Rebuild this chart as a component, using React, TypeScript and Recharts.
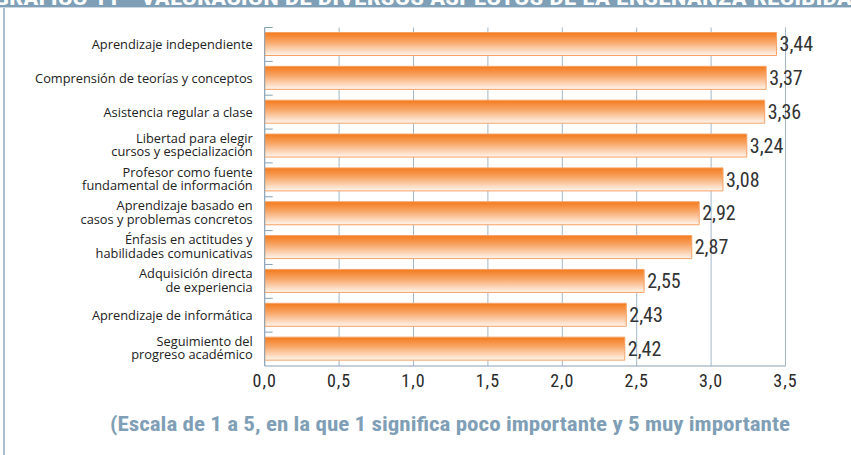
import React from "react";
import { BarChart, Bar, XAxis, YAxis, CartesianGrid, LabelList } from "recharts";

const categories = [
  "Aprendizaje independiente",
  "Comprensión de teorías y conceptos",
  "Asistencia regular a clase",
  "Libertad para elegir\ncursos y especialización",
  "Profesor como fuente\nfundamental de información",
  "Aprendizaje basado en\ncasos y problemas concretos",
  "Énfasis en actitudes y\nhabilidades comunicativas",
  "Adquisición directa\nde experiencia",
  "Aprendizaje de informática",
  "Seguimiento del\nprogreso académico",
];
const values = [3.44, 3.37, 3.36, 3.24, 3.08, 2.92, 2.87, 2.55, 2.43, 2.42];
const xTicks = [0, 0.5, 1, 1.5, 2, 2.5, 3, 3.5];
const titleText = "GRÁFICO 11 - VALORACIÓN DE DIVERSOS ASPECTOS DE LA ENSEÑANZA RECIBIDA";
const footerText = "(Escala de 1 a 5, en la que 1 significa poco importante y 5 muy importante";

const data = categories.map((name, i) => ({ name, value: values[i] }));

const fmt = (v: number) => v.toFixed(1).replace(".", ",");
const fmt2 = (v: any) => Number(v).toFixed(2).replace(".", ",");

const NARROW = "'Liberation Sans Narrow', 'Arial Narrow', 'Roboto Condensed', sans-serif";
const AXIS = "#88a2b6";
const GRID = "#a3b7c7";

const YTick = (props: any) => {
  const { x, y, payload } = props;
  const half = payload && typeof payload.offset === "number" && payload.offset > 0 ? payload.offset : 16.9;
  const lines = String(payload.value).split("\n");
  const lh = 13.6;
  const start = -((lines.length - 1) * lh) / 2 - (lines.length > 1 ? 1.5 : 0);
  return (
    <g>
      <line x1={x} x2={x + 8} y1={y - half} y2={y - half} stroke={AXIS} strokeWidth={1} />
      <text
        x={x - 12}
        y={y}
        textAnchor="end"
        fill="#222"
        fontSize={12.8}
        fontFamily="'Open Sans', sans-serif"
      >
        {lines.map((l, i) => (
          <tspan key={i} x={x - 12} y={y + start + i * lh} dominantBaseline="central">
            {l}
          </tspan>
        ))}
      </text>
    </g>
  );
};

export default function App() {
  return (
    <div
      style={{
        position: "fixed",
        left: 0,
        top: 0,
        width: 851,
        height: 455,
        background: "#fff",
        overflow: "hidden",
      }}
    >
      <div
        style={{
          position: "absolute",
          left: 0,
          top: 0,
          width: 851,
          height: 7,
          background: "#7f9fb6",
          overflow: "hidden",
          borderBottom: "1px solid #c9d7e1",
        }}
      >
        <svg width={851} height={7} style={{ display: "block" }}>
          <text
            x={-6}
            y={5}
            fill="#fff"
            fontWeight="bold"
            fontSize={20}
            fontFamily={NARROW}
            textLength={858}
            lengthAdjust="spacingAndGlyphs"
          >
            {titleText}
          </text>
        </svg>
      </div>
      <div
        style={{
          position: "absolute",
          left: 3,
          top: 8,
          width: 1.5,
          height: 447,
          background: "#a9bfcf",
        }}
      />
      <div style={{ position: "absolute", left: 0, top: 0 }}>
        <BarChart
          width={851}
          height={455}
          data={data}
          layout="vertical"
          margin={{ top: 27.5, right: 65.5, bottom: 59, left: 0 }}
        >
          <defs>
            <linearGradient id="barGrad" x1="0" y1="0" x2="0" y2="1">
              <stop offset="0%" stopColor="#f37a1c" />
              <stop offset="40%" stopColor="#f8a565" />
              <stop offset="100%" stopColor="#fff6ef" />
            </linearGradient>
          </defs>
          <CartesianGrid horizontal={false} vertical={true} stroke={GRID} strokeWidth={1} />
          <XAxis
            type="number"
            domain={[0, 3.5]}
            ticks={xTicks}
            tickFormatter={fmt}
            tickLine={false}
            axisLine={{ stroke: AXIS, strokeWidth: 1 }}
            height={30}
            tick={{ fill: "#2a2a2a", fontSize: 18, fontFamily: NARROW, letterSpacing: 1 }}
            interval={0}
          />
          <YAxis
            type="category"
            dataKey="name"
            width={264.7}
            tickLine={false}
            tickSize={0}
            tickMargin={0}
            axisLine={{ stroke: AXIS, strokeWidth: 1 }}
            tick={<YTick />}
            interval={0}
          />
          <Bar
            dataKey="value"
            barSize={23}
            fill="url(#barGrad)"
            stroke="#f6a266"
            strokeWidth={1}
            isAnimationActive={false}
          >
            <LabelList
              dataKey="value"
              position="right"
              offset={3}
              formatter={fmt2}
              fill="#333"
              fontSize={20}
              fontFamily={NARROW}
            />
          </Bar>
        </BarChart>
      </div>
      <svg
        width={851}
        height={40}
        style={{ position: "absolute", left: 0, top: 405 }}
      >
        <text
          x={110}
          y={19}
          fill="#809fb6"
          fontWeight="bold"
          fontSize={20}
          fontFamily={NARROW}
          textLength={680}
          lengthAdjust="spacingAndGlyphs"
          dominantBaseline="central"
        >
          {footerText}
        </text>
      </svg>
    </div>
  );
}
